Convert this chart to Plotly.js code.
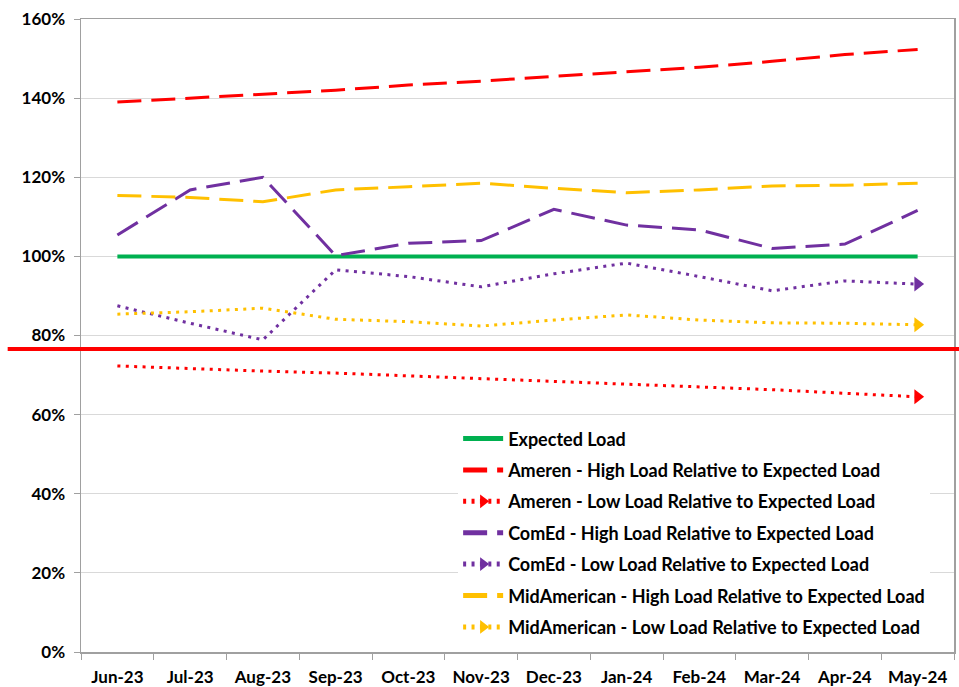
<!DOCTYPE html>
<html>
<head>
<meta charset="utf-8">
<script src="https://cdn.plot.ly/plotly-3.0.1.min.js"></script>
<style>html,body{margin:0;padding:0;background:#fff;}#chart{width:959px;height:687px;}</style>
</head>
<body>
<div id="chart"></div>
<script>
const months = ["Jun-23","Jul-23","Aug-23","Sep-23","Oct-23","Nov-23","Dec-23","Jan-24","Feb-24","Mar-24","Apr-24","May-24"];
const expectedLoad = [100,100,100,100,100,100,100,100,100,100,100,100];
const amerenHigh = [139.0,140.0,141.0,142.0,143.3,144.3,145.5,146.7,147.8,149.3,151.0,152.3];
const amerenLow = [72.3,71.6,71.0,70.5,69.8,69.1,68.5,67.8,67.1,66.3,65.4,64.5];
const comedHigh = [105.4,116.8,120.0,100.2,103.3,104.0,111.9,107.9,106.7,102.0,103.1,111.6];
const comedLow = [87.5,83.1,78.9,96.6,94.9,92.3,95.6,98.3,94.9,91.3,93.8,93.0];
const midHigh = [115.4,114.9,113.8,116.8,117.6,118.5,117.2,116.1,116.8,117.8,118.0,118.5];
const midLow = [85.4,86.0,86.9,84.1,83.5,82.4,83.9,85.2,83.9,83.2,83.1,82.7];
const seriesNames = ["Expected Load",
  "Ameren - High Load Relative to Expected Load",
  "Ameren - Low Load Relative to Expected Load",
  "ComEd - High Load Relative to Expected Load",
  "ComEd - Low Load Relative to Expected Load",
  "MidAmerican - High Load Relative to Expected Load",
  "MidAmerican - Low Load Relative to Expected Load"];
const yTickVals = [0,20,40,60,80,100,120,140,160];
const markerLineLevel = 76.6; // red reference line drawn across the chart

const RED = "#FF0000", GREEN = "#00B050", PURPLE = "#7030A0", GOLD = "#FFC000";
const DASH = "24px,10px", DOT = "3px,5.4px";
const n = months.length;
const arrowSizes = months.map((m,i)=> i===n-1 ? 13 : 0);

function lineTrace(y, name, color, dash, width, arrow, grp){
  const t = {x: months, y: y, name: name, type: "scatter",
    mode: arrow ? "lines+markers" : "lines",
    line: {color: color, width: width, dash: dash},
    legendgroup: grp, hoverinfo: "skip"};
  if (arrow) t.marker = {symbol: "triangle-right", size: arrowSizes, color: color, opacity: 1, line:{width:0}};
  return t;
}

const data = [
  lineTrace(expectedLoad, seriesNames[0], GREEN, "solid", 4, false, "g0"),
  lineTrace(amerenHigh, seriesNames[1], RED, DASH, 3, false, "g1"),
  lineTrace(amerenLow, seriesNames[2], RED, DOT, 3, true, "g2"),
  lineTrace(comedHigh, seriesNames[3], PURPLE, DASH, 3, false, "g3"),
  lineTrace(comedLow, seriesNames[4], PURPLE, DOT, 3, true, "g4"),
  lineTrace(midHigh, seriesNames[5], GOLD, DASH, 3, false, "g5"),
  lineTrace(midLow, seriesNames[6], GOLD, DOT, 3, true, "g6")
];

const FAM = "Lato, 'Open Sans', sans-serif";
const TICKFONT = {family: FAM, size: 17, color: "#000", weight: 700};
const LEGFONT = {family: FAM, size: 18, color: "#000", weight: 700};
const yMax = 160;

const layout = {
  width: 959, height: 687,
  margin: {l: 81, r: 5, t: 19, b: 35},
  paper_bgcolor: "#fff", plot_bgcolor: "#fff",
  font: TICKFONT,
  showlegend: true,
  xaxis: {type: "category", range: [-0.5, n - 0.5], tickson: "boundaries", ticks: "outside", ticklen: 6, tickcolor: "#A0A0A0",
    showline: true, linecolor: "#A0A0A0", linewidth: 1.5, mirror: true, showgrid: false,
    tickfont: TICKFONT, ticklabelstandoff: 9, fixedrange: true},
  yaxis: {range: [0, yMax], tickvals: yTickVals, ticktext: yTickVals.map(v=>v+"%"),
    ticks: "outside", ticklen: 6, tickcolor: "#A0A0A0",
    showline: true, linecolor: "#A0A0A0", linewidth: 1.5, mirror: true,
    showgrid: true, gridcolor: "#D9D9D9", gridwidth: 1, zeroline: false,
    tickfont: TICKFONT, ticklabelstandoff: 5, fixedrange: true},
  legend: {x: 0.432, xanchor: "left", y: 0.366, yanchor: "top",
    bgcolor: "#fff", borderwidth: 0, font: LEGFONT, traceorder: "grouped",
    tracegroupgap: 5, itemsizing: "constant", itemwidth: 40},
  shapes: [{type: "line", xref: "paper", yref: "paper",
    x0: -0.084, x1: 1.01, y0: markerLineLevel / yMax, y1: markerLineLevel / yMax,
    line: {color: RED, width: 4}, layer: "above"}]
};

Plotly.newPlot("chart", data, layout, {displayModeBar: false, staticPlot: true});
</script>
</body>
</html>
